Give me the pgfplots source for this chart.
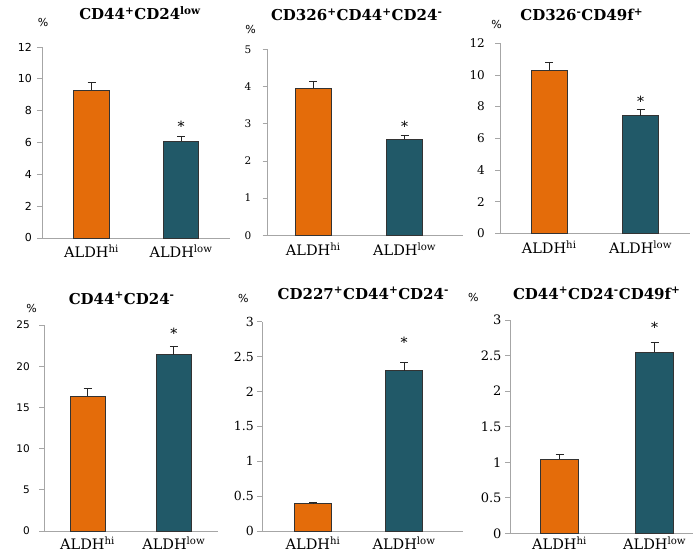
\documentclass[border=0pt]{standalone}
\usepackage{fontspec}
\setmainfont{DejaVu Serif}
\newfontfamily\sansA{DejaVu Sans}
\usepackage{pgfplots}
\pgfplotsset{compat=1.18}
\definecolor{barorange}{HTML}{E46C0A}
\definecolor{barteal}{HTML}{215968}
\definecolor{axgray}{HTML}{A6A6A6}
\pgfplotsset{
  panel/.style={
    scale only axis, anchor=south west, clip=false,
    axis lines*=left, axis line style={draw=axgray, line width=0.7pt},
    ymin=0, xmin=0,
    ybar, bar shift=0pt,
    tick align=outside, major tick length=5pt,
    ytick style={draw=axgray, line width=0.7pt},
    xtick style={draw=none},
    /pgf/number format/assume math mode=true,
    xticklabel style={font=\fontsize{14.5}{16}\selectfont, yshift=1.5pt},
    every axis plot/.append style={draw=black!80, line width=0.6pt,
      error bars/y dir=plus, error bars/y explicit,
      error bars/error bar style={black!85, line width=0.7pt},
      error bars/error mark options={black!85, line width=0.7pt, rotate=90, mark size=4pt}},
  },
  sansticks/.style={yticklabel style={font=\sansA\fontsize{#1}{13}\selectfont}},
  serifticks/.style={yticklabel style={font=\fontsize{#1}{14}\selectfont}},
}
\newcommand{\ttl}[1]{\fontsize{15}{17}\selectfont\bfseries #1}
\newcommand{\sps}[1]{\textsuperscript{#1}}
\begin{document}
\begin{tikzpicture}
\path[use as bounding box] (0,0) rectangle (694pt,554pt);
% Panel 1
\begin{axis}[panel, sansticks=11, yticklabel style={xshift=-1.7pt},
  at={(42pt,316pt)}, width=188pt, height=191pt,
  xmax=188, ymax=12, ytick={0,2,...,12}, bar width=35.5pt,
  xtick={49.5,139}, xticklabels={ALDH\sps{hi}, ALDH\sps{low}}]
\addplot[fill=barorange] coordinates {(49.5,9.3) +- (0,0.48)};
\addplot[fill=barteal] coordinates {(139,6.1) +- (0,0.3)};
\node[font=\fontsize{14}{14}\selectfont] at (axis cs:139,7.0) {*};
\end{axis}
\node[font=\ttl{}] at (140pt,541pt) {CD44\sps{+}CD24\sps{low}};
\node[font=\sansA\fontsize{11}{12}\selectfont] at (43pt,531pt) {\%};
% Panel 2
\begin{axis}[panel, serifticks=10.5, yticklabel style={xshift=-7.7pt},
  at={(267.5pt,318.7pt)}, width=195.5pt, height=186pt,
  xmax=195.5, ymax=5, ytick={0,1,...,5}, bar width=36pt,
  xtick={45.8,137.2}, xticklabels={ALDH\sps{hi}, ALDH\sps{low}}]
\addplot[fill=barorange] coordinates {(45.8,3.95) +- (0,0.2)};
\addplot[fill=barteal] coordinates {(137.2,2.58) +- (0,0.12)};
\node[font=\fontsize{14}{14}\selectfont] at (axis cs:137.2,2.93) {*};
\end{axis}
\node[font=\ttl{}] at (356.7pt,539pt) {CD326\sps{+}CD44\sps{+}CD24\sps{-}};
\node[font=\sansA\fontsize{11}{12}\selectfont] at (250.7pt,524.7pt) {\%};
% Panel 3
\begin{axis}[panel, serifticks=12, yticklabel style={xshift=-6.7pt},
  at={(500pt,320.7pt)}, width=190pt, height=190pt,
  xmax=190, ymax=12, ytick={0,2,...,12}, bar width=36.3pt,
  xtick={49.2,140.5}, xticklabels={ALDH\sps{hi}, ALDH\sps{low}}]
\addplot[fill=barorange] coordinates {(49.2,10.3) +- (0,0.5)};
\addplot[fill=barteal] coordinates {(140.5,7.43) +- (0,0.42)};
\node[font=\fontsize{14}{14}\selectfont] at (axis cs:140.5,8.35) {*};
\end{axis}
\node[font=\ttl{}] at (581.7pt,539pt) {CD326\sps{-}CD49f\sps{+}};
\node[font=\sansA\fontsize{11}{12}\selectfont] at (496.7pt,529pt) {\%};
% Panel 4
\begin{axis}[panel, sansticks=10.5, yticklabel style={xshift=-5.7pt},
  xticklabel style={yshift=1pt},
  at={(44pt,23pt)}, width=174pt, height=206pt,
  xmax=174, ymax=25, ytick={0,5,...,25}, bar width=35pt,
  xtick={43.5,129.8}, xticklabels={ALDH\sps{hi}, ALDH\sps{low}}]
\addplot[fill=barorange] coordinates {(43.5,16.4) +- (0,0.9)};
\addplot[fill=barteal] coordinates {(129.8,21.4) +- (0,1.0)};
\node[font=\fontsize{14}{14}\selectfont] at (axis cs:129.8,24.0) {*};
\end{axis}
\node[font=\ttl{}] at (121.7pt,255.7pt) {CD44\sps{+}CD24\sps{-}};
\node[font=\sansA\fontsize{11}{12}\selectfont] at (31.7pt,245.7pt) {\%};
% Panel 5
\begin{axis}[panel, serifticks=12.5, yticklabel style={xshift=0pt},
  xticklabel style={yshift=1pt},
  at={(262.3pt,23pt)}, width=200.7pt, height=209.3pt,
  xmax=200.7, ymax=3, ytick={0,0.5,...,3}, bar width=37pt,
  xtick={50.7,141.7}, xticklabels={ALDH\sps{hi}, ALDH\sps{low}}]
\addplot[fill=barorange] coordinates {(50.7,0.39) +- (0,0.015)};
\addplot[fill=barteal] coordinates {(141.7,2.3) +- (0,0.12)};
\node[font=\fontsize{14}{14}\selectfont] at (axis cs:141.7,2.7) {*};
\end{axis}
\node[font=\ttl{}] at (363.3pt,260.7pt) {CD227\sps{+}CD44\sps{+}CD24\sps{-}};
\node[font=\sansA\fontsize{11}{12}\selectfont] at (243.3pt,255.7pt) {\%};
% Panel 6
\begin{axis}[panel, serifticks=13, yticklabel style={xshift=0pt},
  xticklabel style={yshift=3.5pt},
  at={(510pt,20.7pt)}, width=183pt, height=213.3pt,
  xmax=183, ymax=3, ytick={0,0.5,...,3}, bar width=38pt,
  xtick={49.5,144.7}, xticklabels={ALDH\sps{hi}, ALDH\sps{low}}]
\addplot[fill=barorange] coordinates {(49.5,1.045) +- (0,0.07)};
\addplot[fill=barteal] coordinates {(144.7,2.55) +- (0,0.13)};
\node[font=\fontsize{14}{14}\selectfont] at (axis cs:144.7,2.9) {*};
\end{axis}
\node[font=\ttl{}] at (596.7pt,260.7pt) {CD44\sps{+}CD24\sps{-}CD49f\sps{+}};
\node[font=\sansA\fontsize{11}{12}\selectfont] at (473.3pt,256.7pt) {\%};
\end{tikzpicture}
\end{document}
